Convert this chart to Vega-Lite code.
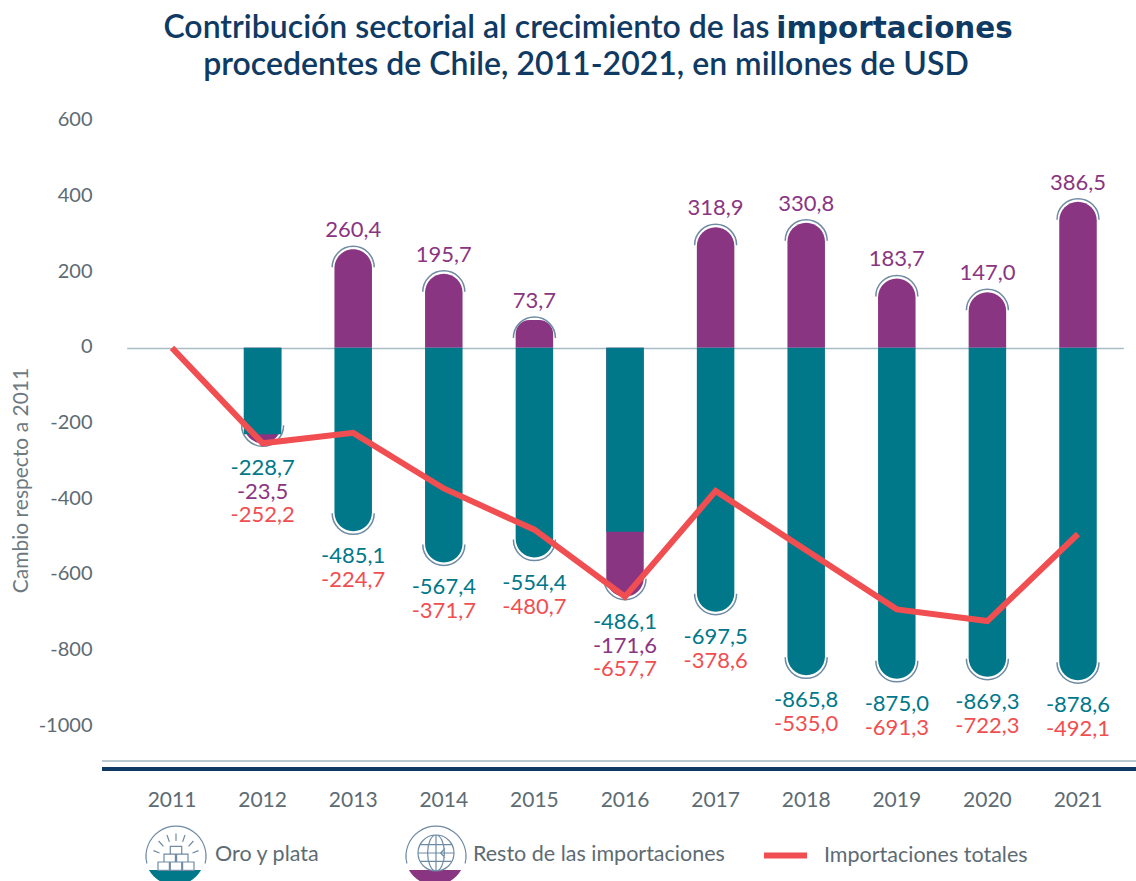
{
"$schema":"https://vega.github.io/schema/vega-lite/v6.json",
"autosize":"none",
"width":1034,"height":668,
"padding":{"left":102,"top":102,"right":0,"bottom":111},
"background":"white",
"title":{"text":["Contribución sectorial al crecimiento de las\u00a0\u00a0\u00a0\u00a0\u00a0\u00a0\u00a0\u00a0\u00a0\u00a0\u00a0\u00a0\u00a0\u00a0\u00a0\u00a0\u00a0\u00a0\u00a0\u00a0\u00a0\u00a0\u00a0\u00a0\u00a0\u00a0\u00a0\u00a0\u00a0\u00a0\u200b","procedentes de Chile, 2011-2021, en millones de USD"],"anchor":"middle","frame":"group","dx":-33,"offset":-68.5,"font":"Lato","fontSize":32,"fontWeight":600,"color":"#0f3a63","lineHeight":37},
"config":{"view":{"stroke":null},"locale":{"number":{"decimal":",","thousands":".","grouping":[3],"currency":["$",""],"minus":"-"}},"text":{"font":"Lato"},"legend":{"title":null,"padding":0,"labelFont":"Lato","labelFontSize":21.5,"labelColor":"#5d6b72","labelLimit":400,"orient":"none"}},
"data":{"values":[
{"anio":"2011","oro":null,"resto":null,"total":0,"piso":null},
{"anio":"2012","oro":-228.7,"resto":-23.5,"total":-252.2,"piso":-252.2},
{"anio":"2013","oro":-485.1,"resto":260.4,"total":-224.7,"piso":-485.1},
{"anio":"2014","oro":-567.4,"resto":195.7,"total":-371.7,"piso":-567.4},
{"anio":"2015","oro":-554.4,"resto":73.7,"total":-480.7,"piso":-554.4},
{"anio":"2016","oro":-486.1,"resto":-171.6,"total":-657.7,"piso":-657.7},
{"anio":"2017","oro":-697.5,"resto":318.9,"total":-378.6,"piso":-697.5},
{"anio":"2018","oro":-865.8,"resto":330.8,"total":-535.0,"piso":-865.8},
{"anio":"2019","oro":-875.0,"resto":183.7,"total":-691.3,"piso":-875.0},
{"anio":"2020","oro":-869.3,"resto":147.0,"total":-722.3,"piso":-869.3},
{"anio":"2021","oro":-878.6,"resto":386.5,"total":-492.1,"piso":-878.6}
]},
"resolve":{"scale":{"color":"independent","stroke":"independent"}},
"layer":[
{"mark":{"type":"rule","color":"#b9c9cf","strokeWidth":2},
 "encoding":{
  "y":{"datum":-1092.4,"type":"quantitative","scale":{"domain":[-1116,650],"nice":false,"zero":false},
   "axis":{"values":[-1000,-800,-600,-400,-200,0,200,400,600],"format":"d","title":"Cambio respecto a 2011","titleFont":"Lato","titleFontSize":21,"titleFontWeight":"normal","titleColor":"#6d7a80","titleX":-71,"titleY":378,"domain":false,"ticks":false,"grid":false,"labelPadding":10,"labelOffset":-1,"labelFont":"Lato","labelFontSize":20,"labelColor":"#5d6b72"}}}},
{"mark":{"type":"rule","color":"#0f3a63","strokeWidth":3},"encoding":{"y":{"datum":-1113.4,"type":"quantitative"}}},
{"transform":[{"filter":"datum.resto < 0"}],
 "mark":{"type":"bar","width":37.5,"cornerRadiusBottomLeft":18.75,"cornerRadiusBottomRight":18.75,"color":"#8a3582"},
 "encoding":{
  "x":{"field":"anio","type":"ordinal","scale":{"type":"band","range":[24.7,1021.3],"paddingInner":0,"paddingOuter":0},
   "axis":{"orient":"bottom","offset":-422,"title":"importaciones","titleX":792,"titleY":-311,"titleFont":"DejaVu Sans","titleFontSize":29.4,"titleFontWeight":"bold","titleColor":"#0f3a63","titleBaseline":"alphabetic","domainColor":"#a9bcc6","domainWidth":1.5,"ticks":false,"labelAngle":0,"labelPadding":441,"labelFont":"Lato","labelFontSize":21,"labelColor":"#5d6b72","labelBaseline":"top","grid":false}},
  "y":{"field":"total","type":"quantitative"},"y2":{"datum":0}}},
{"transform":[{"filter":"datum.resto > 0"}],
 "mark":{"type":"bar","width":37.5,"cornerRadiusTopLeft":18.75,"cornerRadiusTopRight":18.75},
 "encoding":{"x":{"field":"anio","type":"ordinal"},"y":{"field":"resto","type":"quantitative"},"y2":{"datum":0},
  "color":{"datum":"Resto de las importaciones","scale":{"range":["#8a3582"]},"legend":{"legendX":303,"legendY":723,"symbolType":"M-0.87,0.5 A1,1 0 0 0 0.87,0.5 Z","symbolSize":3600,"symbolStrokeWidth":0,"symbolOpacity":1,"labelOffset":8}}}},
{"transform":[{"filter":"datum.resto > 0"}],
 "mark":{"type":"bar","width":37.5,"cornerRadiusBottomLeft":18.75,"cornerRadiusBottomRight":18.75},
 "encoding":{"x":{"field":"anio","type":"ordinal"},"y":{"field":"oro","type":"quantitative"},"y2":{"datum":0},
  "color":{"datum":"Oro y plata","scale":{"range":["#00788a"]},"legend":{"legendX":43,"legendY":723,"symbolType":"M-0.87,0.5 A1,1 0 0 0 0.87,0.5 Z","symbolSize":3600,"symbolStrokeWidth":0,"symbolOpacity":1,"labelOffset":10}}}},
{"transform":[{"filter":"datum.resto < 0"}],
 "mark":{"type":"bar","width":37.5,"color":"#00788a"},
 "encoding":{"x":{"field":"anio","type":"ordinal"},"y":{"field":"oro","type":"quantitative"},"y2":{"datum":0}}},
{"transform":[{"filter":"datum.resto > 0"}],
 "mark":{"type":"point","filled":false,"strokeWidth":1.5,"size":1764,"opacity":1,"shape":"M-1,0.857 A1,1 0 0 1 1,0.857"},
 "encoding":{"x":{"field":"anio","type":"ordinal"},"y":{"field":"resto","type":"quantitative"},
  "stroke":{"datum":"Icono resto","scale":{"range":["#6f8ba3"]},"legend":{"legendX":303,"legendY":723,"labelExpr":"''","symbolStrokeWidth":1.2,"symbolSize":3600,"symbolType":"M-0.97,0.25 A1,1 0 1 1 0.97,0.25 M-0.6,-0.1 A0.6,0.6 0 1 1 0.6,-0.1 A0.6,0.6 0 1 1 -0.6,-0.1 M0,-0.7 A0.28,0.6 0 0 1 0,0.5 A0.28,0.6 0 0 1 0,-0.7 M-0.52,-0.38 L0.52,-0.38 M-0.6,-0.1 L0.6,-0.1 M-0.52,0.18 L0.52,0.18 M0,-0.7 L0,0.5 M0.6,-0.1 L0.15,-0.1 M0.3,-0.25 L0.15,-0.1 L0.3,0.05"}}}},
{"transform":[{"filter":"datum.piso != null"}],
 "mark":{"type":"point","filled":false,"strokeWidth":1.5,"size":1764,"opacity":1,"shape":"M-1,-0.857 A1,1 0 0 0 1,-0.857"},
 "encoding":{"x":{"field":"anio","type":"ordinal"},"y":{"field":"piso","type":"quantitative"},
  "stroke":{"datum":"Icono oro","scale":{"range":["#6f8ba3"]},"legend":{"legendX":43,"legendY":723,"labelExpr":"''","symbolStrokeWidth":1.2,"symbolSize":3600,"symbolType":"M-0.97,0.25 A1,1 0 1 1 0.97,0.25 M-0.6,0.2 L-0.22,0.2 L-0.22,0.48 L-0.6,0.48 Z M-0.19,0.2 L0.19,0.2 L0.19,0.48 L-0.19,0.48 Z M0.22,0.2 L0.6,0.2 L0.6,0.48 L0.22,0.48 Z M-0.4,-0.06 L-0.02,-0.06 L-0.02,0.2 L-0.4,0.2 Z M0.02,-0.06 L0.4,-0.06 L0.4,0.2 L0.02,0.2 Z M-0.19,-0.32 L0.19,-0.32 L0.19,-0.06 L-0.19,-0.06 Z M0,-0.75 L0,-0.5 M-0.3,-0.7 L-0.22,-0.47 M0.3,-0.7 L0.22,-0.47 M-0.58,-0.5 L-0.42,-0.32 M0.58,-0.5 L0.42,-0.32 M-0.75,-0.18 L-0.55,-0.1 M0.75,-0.18 L0.55,-0.1"}}}},
{"mark":{"type":"line","strokeWidth":6,"strokeJoin":"miter"},
 "encoding":{"x":{"field":"anio","type":"ordinal"},"y":{"field":"total","type":"quantitative"},
  "stroke":{"datum":"Importaciones totales","scale":{"range":["#f04e50"]},"legend":{"legendX":659,"legendY":729,"symbolType":"stroke","symbolSize":1849,"symbolStrokeWidth":6,"labelOffset":14}}}},
{"transform":[{"filter":"datum.resto > 0"}],
 "mark":{"type":"text","dy":-19,"fontSize":22,"color":"#8a3582"},
 "encoding":{"x":{"field":"anio","type":"ordinal"},"y":{"field":"resto","type":"quantitative"},"text":{"field":"resto","type":"quantitative","format":".1f"}}},
{"transform":[{"filter":"datum.piso != null"}],
 "mark":{"type":"text","dy":25,"fontSize":22,"color":"#00788a"},
 "encoding":{"x":{"field":"anio","type":"ordinal"},"y":{"field":"piso","type":"quantitative"},"text":{"field":"oro","type":"quantitative","format":".1f"}}},
{"transform":[{"filter":"datum.resto < 0"}],
 "mark":{"type":"text","dy":49,"fontSize":22,"color":"#8a3582"},
 "encoding":{"x":{"field":"anio","type":"ordinal"},"y":{"field":"piso","type":"quantitative"},"text":{"field":"resto","type":"quantitative","format":".1f"}}},
{"transform":[{"filter":"datum.resto < 0"}],
 "mark":{"type":"text","dy":72,"fontSize":22,"color":"#f04e50"},
 "encoding":{"x":{"field":"anio","type":"ordinal"},"y":{"field":"piso","type":"quantitative"},"text":{"field":"total","type":"quantitative","format":".1f"}}},
{"transform":[{"filter":"datum.resto > 0"}],
 "mark":{"type":"text","dy":49,"fontSize":22,"color":"#f04e50"},
 "encoding":{"x":{"field":"anio","type":"ordinal"},"y":{"field":"piso","type":"quantitative"},"text":{"field":"total","type":"quantitative","format":".1f"}}}
]
}
